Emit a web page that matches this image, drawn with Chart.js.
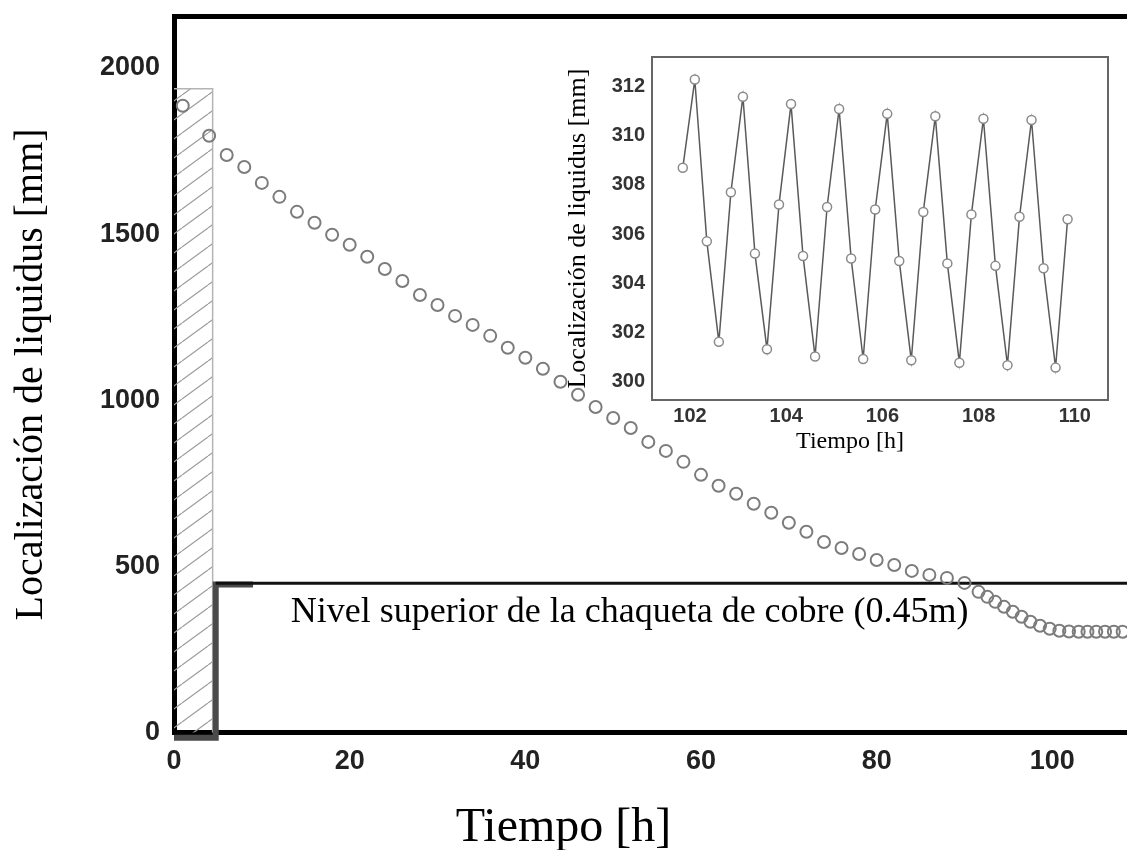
<!DOCTYPE html>
<html>
<head>
<meta charset="utf-8">
<script src="https://cdn.jsdelivr.net/npm/chart.js@4.4.1/dist/chart.umd.min.js"></script>
<style>
  html, body { margin: 0; padding: 0; background: #fff; overflow: hidden; width: 1127px; height: 850px; }
  #wrap { position: relative; width: 1127px; height: 850px; overflow: hidden; }
  #main { position: absolute; left: 0; top: 0; }
  #inset { position: absolute; left: 560px; top: 40px; }
</style>
</head>
<body>
<div id="wrap">
  <canvas id="main" width="1127" height="850"></canvas>
  <canvas id="inset" width="580" height="416"></canvas>
</div>
<script>
// main curve: liquidus location vs time
const mainHours = [1, 4, 6, 8, 10, 12, 14, 16, 18, 20, 22, 24, 26, 28, 30, 32, 34, 36, 38, 40,
  42, 44, 46, 48, 50, 52, 54, 56, 58, 60, 62, 64, 66, 68, 70, 72, 74, 76, 78, 80,
  82, 84, 86, 88, 90, 91.6, 92.6, 93.5, 94.5, 95.5, 96.5, 97.5, 98.6, 99.7, 100.8,
  101.9, 103, 104, 105, 106, 107, 108];
const mainLiquidus = [1886, 1796, 1738, 1702, 1654, 1612, 1567, 1534, 1498, 1468, 1432, 1395, 1359, 1317, 1287, 1254, 1227, 1194, 1158, 1128,
  1095, 1056, 1017, 980, 947, 917, 875, 848, 815, 776, 743, 719, 689, 662, 632, 605, 574, 556, 538, 520,
  505, 487, 475, 466, 451, 424, 409, 394, 379, 364, 349, 334, 322, 313, 307,
  305, 304, 304, 304, 304, 304, 304];

// inset: zoom on the last hours
const insetHours = [101.85, 102.1, 102.35, 102.6, 102.85, 103.1, 103.35, 103.6, 103.85, 104.1, 104.35,
  104.6, 104.85, 105.1, 105.35, 105.6, 105.85, 106.1, 106.35, 106.6, 106.85, 107.1,
  107.35, 107.6, 107.85, 108.1, 108.35, 108.6, 108.85, 109.1, 109.35, 109.6, 109.85];
const insetLiquidus = [308.7, 312.3, 305.7, 301.6, 307.7, 311.6, 305.2, 301.3, 307.2, 311.3, 305.1,
  301.0, 307.1, 311.1, 305.0, 300.9, 307.0, 310.9, 304.9, 300.85, 306.9, 310.8,
  304.8, 300.75, 306.8, 310.7, 304.7, 300.65, 306.7, 310.65, 304.6, 300.55, 306.6];

// shapes: initial mould fill (hatched), copper jacket and its top level
const mouldHours = [0, 4.4, 4.4];
const mouldLevel = [1937, 1937, 0];
const jacketHours = [0, 4.75, 4.75, 9];
const jacketLevel = [-15, -15, 446, 446];
const levelHours = [4.75, 108.5];
const levelMm = [450, 450];

// tick labels
const mainXTicks = [0, 20, 40, 60, 80, 100];
const mainYTicks = [0, 500, 1000, 1500, 2000];
const insetXTicks = [102, 104, 106, 108, 110];
const insetYTicks = [300, 302, 304, 306, 308, 310, 312];

const noteText = "Nivel superior de la chaqueta de cobre (0.45m)";

function pts(xs, ys) {
  return xs.map((x, i) => ({ x: x, y: ys[i] }));
}

function setTicks(values) {
  return (scale) => {
    scale.ticks = values.map((v) => ({ value: v }));
  };
}

// fixed axis size, no extra label padding around the plot area
function fixSize(size) {
  return (s) => {
    if (s.isHorizontal()) s.height = size;
    else s.width = size;
    s.paddingTop = 0;
    s.paddingBottom = 0;
    s.paddingLeft = 0;
    s.paddingRight = 0;
  };
}

function hatchPattern() {
  const c = document.createElement("canvas");
  c.width = 26;
  c.height = 19;
  const g = c.getContext("2d");
  g.strokeStyle = "#9c9c9c";
  g.lineWidth = 1.2;
  g.beginPath();
  g.moveTo(0, 19); g.lineTo(26, 0);
  g.moveTo(-26, 19); g.lineTo(0, 0);
  g.moveTo(26, 19); g.lineTo(52, 0);
  g.stroke();
  return g.createPattern(c, "repeat");
}

// text label placed in data coordinates
const notePlugin = {
  id: "note",
  afterDatasetsDraw(chart, args, opts) {
    if (!opts.text) return;
    const { ctx, scales } = chart;
    ctx.save();
    ctx.font = opts.font;
    ctx.fillStyle = opts.color;
    ctx.textBaseline = "alphabetic";
    ctx.fillText(opts.text, scales.x.getPixelForValue(opts.x), scales.y.getPixelForValue(opts.y));
    ctx.restore();
  },
};

const sans = "'Liberation Sans', Arial, sans-serif";
const serif = "'Liberation Serif', 'Times New Roman', serif";
const plain = (v) => String(v);

// axis that only draws a frame side
function frameAxis(position, size, color, width) {
  return {
    type: "linear",
    position: position,
    min: 0,
    max: 1,
    display: true,
    afterFit: fixSize(size),
    grid: { display: false, drawTicks: false },
    ticks: { display: false },
    border: { display: true, color: color, width: width },
  };
}

new Chart(document.getElementById("main"), {
  type: "scatter",
  data: {
    datasets: [
      {
        data: pts(mainHours, mainLiquidus),
        showLine: false,
        pointStyle: "circle",
        pointRadius: 6,
        pointBorderWidth: 2,
        pointBorderColor: "#7c7c7c",
        pointBackgroundColor: "rgba(255,255,255,0)",
        order: 0,
      },
      {
        data: pts(levelHours, levelMm),
        showLine: true,
        borderColor: "#111",
        borderWidth: 3,
        pointRadius: 0,
        order: 1,
      },
      {
        data: pts(jacketHours, jacketLevel),
        showLine: true,
        borderColor: "#4a4a4a",
        borderWidth: 6,
        borderJoinStyle: "miter",
        pointRadius: 0,
        clip: false,
        order: 2,
      },
      {
        data: pts(mouldHours, mouldLevel),
        showLine: true,
        fill: "origin",
        backgroundColor: hatchPattern(),
        borderColor: "#b4b4b4",
        borderWidth: 1.5,
        pointRadius: 0,
        order: 3,
      },
    ],
  },
  options: {
    responsive: false,
    animation: false,
    events: [],
    layout: { padding: 0, autoPadding: false },
    plugins: {
      legend: { display: false },
      tooltip: { enabled: false },
      title: {
        display: true,
        position: "bottom",
        text: "Tiempo [h]",
        color: "#000",
        font: { family: serif, size: 48, weight: "normal", lineHeight: 0.92 },
        padding: { top: 0, bottom: 0 },
      },
      note: { text: noteText, x: 13.3, y: 334, font: "36px " + serif, color: "#000" },
    },
    scales: {
      x: {
        type: "linear",
        min: 0,
        max: 108.5,
        afterBuildTicks: setTicks(mainXTicks),
        afterFit: fixSize(73),
        grid: { display: false, drawTicks: false },
        border: { display: true, color: "#000", width: 5 },
        ticks: { color: "#222", padding: 13, callback: plain, font: { family: sans, size: 27, weight: "bold" } },
      },
      xTop: frameAxis("top", 16, "#000", 5),
      y: {
        type: "linear",
        min: 0,
        max: 2156,
        afterBuildTicks: setTicks(mainYTicks),
        afterFit: fixSize(174),
        grid: { display: false, drawTicks: false },
        border: { display: true, color: "#000", width: 5 },
        ticks: { color: "#222", padding: 14, callback: plain, font: { family: sans, size: 27, weight: "bold" } },
        title: {
          display: true,
          text: "Localización de liquidus [mm]",
          color: "#000",
          font: { family: serif, size: 40, lineHeight: 1.0 },
          padding: { top: 11, bottom: 0 },
        },
      },
    },
  },
  plugins: [notePlugin],
});

new Chart(document.getElementById("inset"), {
  type: "scatter",
  data: {
    datasets: [
      {
        data: pts(insetHours, insetLiquidus),
        showLine: true,
        borderColor: "#5a5a5a",
        borderWidth: 1.5,
        pointStyle: "circle",
        pointRadius: 4.5,
        pointBorderWidth: 1.5,
        pointBorderColor: "#8a8a8a",
        pointBackgroundColor: "#fff",
        xAxisID: "x",
        yAxisID: "y",
      },
    ],
  },
  options: {
    responsive: false,
    animation: false,
    events: [],
    layout: { padding: { top: 0, right: 5, left: 5, bottom: 0 }, autoPadding: false },
    plugins: {
      legend: { display: false },
      tooltip: { enabled: false },
      title: {
        display: true,
        position: "bottom",
        text: "Tiempo [h]",
        color: "#000",
        font: { family: serif, size: 24, weight: "normal", lineHeight: 1.2 },
        padding: { top: 0, bottom: 0 },
      },
    },
    scales: {
      x: {
        type: "linear",
        min: 101.21,
        max: 110.69,
        afterBuildTicks: setTicks(insetXTicks),
        afterFit: fixSize(27),
        grid: { display: false, drawTicks: false },
        border: { display: true, color: "#666", width: 2 },
        ticks: { color: "#333", padding: 4, callback: plain, font: { family: sans, size: 20, weight: "bold" } },
      },
      xTop: frameAxis("top", 17, "#666", 2),
      y: {
        type: "linear",
        min: 299.22,
        max: 313.22,
        afterBuildTicks: setTicks(insetYTicks),
        afterFit: fixSize(87),
        grid: { display: false, drawTicks: false },
        border: { display: true, color: "#666", width: 2 },
        ticks: { color: "#333", padding: 7, callback: plain, font: { family: sans, size: 20, weight: "bold" } },
        title: {
          display: true,
          text: "Localización de liquidus [mm]",
          color: "#000",
          font: { family: serif, size: 26, lineHeight: 1.0 },
          padding: { top: 0, bottom: 0 },
        },
      },
      yRight: frameAxis("right", 27, "#666", 2),
    },
  },
});
</script>
</body>
</html>
